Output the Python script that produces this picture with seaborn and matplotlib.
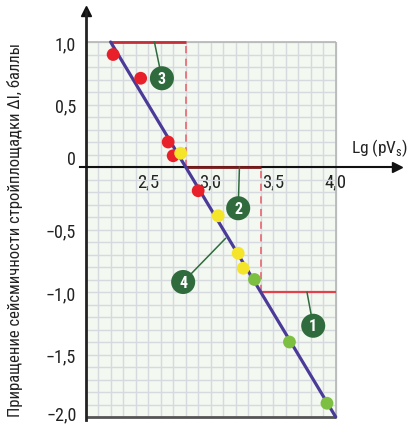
import numpy as np
import pandas as pd
import matplotlib
matplotlib.use("Agg")
import matplotlib.pyplot as plt
from matplotlib import font_manager
from matplotlib.patches import Rectangle
import seaborn as sns

# ---------------- data ----------------
red_x = [2.22, 2.44, 2.66, 2.70, 2.90]
red_y = [0.90, 0.71, 0.20, 0.09, -0.19]
yellow_x = [2.76, 3.06, 3.22, 3.26]
yellow_y = [0.11, -0.39, -0.69, -0.81]
green_x = [3.35, 3.63, 3.93]
green_y = [-0.90, -1.40, -1.89]

fit_x = [2.2, 4.0]
fit_y = [1.0, -2.0]

zone_x = [2.2, 2.8, 3.4, 4.0]
zone_y = [1.0, 0.0, -1.0]

x_ticks = [2.5, 3.0, 3.5, 4.0]
x_ticklabels = ["2,5", "3,0", "3,5", "4,0"]
y_ticks = [-2.0, -1.5, -1.0, -0.5, 0.0, 0.5, 1.0]
y_ticklabels = ["", "\u22121,5", "\u22121,0", "\u22120,5", "", "0,5", "1,0"]
y_extra_labels = ["\u22122,0", "0"]
y_extra_pos = [-2.0, 0.0]
y_extra_shift = [3, 8]

badge_text = ["1", "2", "3", "4"]
badge_x = [3.82, 3.22, 2.61, 2.78]
badge_y = [-1.27, -0.33, 0.71, -0.92]
leader_x = [3.77, 3.23, 2.55, 3.12]
leader_y = [-1.00, 0.00, 1.00, -0.57]

y_label = "Приращение сейсмичности стройплощадки ΔI, баллы"
x_label = "Lg (pV$_\\mathregular{s}$)"

# ---------------- style ----------------
sns.set_theme(style="white")
fam = "DejaVu Sans"
for cand in ["Liberation Sans Narrow", "Roboto Condensed", "Open Sans", "DejaVu Sans"]:
    try:
        font_manager.findfont(cand, fallback_to_default=False)
        fam = cand
        break
    except Exception:
        pass
plt.rcParams["font.family"] = [fam, "DejaVu Sans"]

W, H = 408, 427
fig = plt.figure(figsize=(W / 100, H / 100), dpi=100)
px_left, px_right, px_top, px_bot = 80, 397, 12, 420.5
ax = fig.add_axes([px_left / W, (H - px_bot) / H, (px_right - px_left) / W, (px_bot - px_top) / H])
ax.set_xlim(1.955, 4.49)
ax.set_ylim(-2.02, 1.248)
ax.set_facecolor("none")
fig.patch.set_facecolor("white")

# grid box
ax.add_patch(Rectangle((2.0, -2.0), 2.0, 3.0, facecolor="#f3f8f1", edgecolor="none", zorder=0))
gx = np.round(np.arange(2.0, 4.0001, 0.1), 2)
gy = np.round(np.arange(-2.0, 1.0001, 0.1), 2)
ax.vlines(gx, -2.0, 1.0, colors="#d6d9dd", lw=1.0, zorder=1)
ax.hlines(gy, 2.0, 4.0, colors="#d6d9dd", lw=1.0, zorder=1)
ax.vlines([4.0], -2.0, 1.0, colors="#b5b5b5", lw=1.2, zorder=1)
ax.hlines([1.0], 2.0, 4.0, colors="#b5b5b5", lw=1.2, zorder=1)
ax.hlines([-2.0], 2.0, 4.0, colors="#555555", lw=2.0, zorder=2)

# spines as axes
for s in ["top", "right"]:
    ax.spines[s].set_visible(False)
ax.spines["left"].set_position(("data", 2.0))
ax.spines["left"].set_color("#222222")
ax.spines["left"].set_linewidth(2.0)
ax.spines["bottom"].set_position(("data", 0.0))
ax.spines["bottom"].set_color("#111111")
ax.spines["bottom"].set_linewidth(1.5)
ax.spines["bottom"].set_zorder(3)

ax.plot(1, 0, ">", color="#111111", ms=7, transform=ax.get_yaxis_transform(), clip_on=False)
ax.plot(2.0, 1, "^", color="#111111", ms=7, transform=ax.get_xaxis_transform(), clip_on=False)

ax.set_xticks(x_ticks)
ax.set_xticklabels(x_ticklabels)
ax.set_yticks(y_ticks)
ax.set_yticklabels(y_ticklabels)
ax.tick_params(axis="x", direction="inout", length=8, width=1.2, color="#111111",
               labelsize=13.5, pad=0, labelcolor="#222222")
ax.tick_params(axis="y", direction="out", length=5, width=1.2, color="#222222",
               labelsize=13, pad=2, labelcolor="#222222")
for txt, yp, sh in zip(y_extra_labels, y_extra_pos, y_extra_shift):
    ax.annotate(txt, xy=(2.0, yp), xytext=(-9 if txt == "\u22122,0" else -10, sh),
                textcoords="offset pixels", ha="right", va="center",
                fontsize=13, color="#222222", annotation_clip=False)

# zone step lines
ax.hlines(zone_y[0], zone_x[0], zone_x[1], colors="#c4303a", lw=2.0, zorder=4)
ax.vlines(zone_x[1], zone_y[1], zone_y[0], colors="#e8707a", lw=1.3, linestyles=(0, (4, 3)), zorder=4)
ax.hlines(zone_y[1], zone_x[1], zone_x[2], colors="#7a1a1a", lw=2.0, zorder=4)
ax.vlines(zone_x[2], zone_y[2], zone_y[1], colors="#e8707a", lw=1.3, linestyles=(0, (4, 3)), zorder=4)
ax.hlines(zone_y[2], zone_x[2], zone_x[3], colors="#e2404c", lw=1.6, zorder=4)

# regression line
sns.lineplot(x=fit_x, y=fit_y, ax=ax, color="#4b3b98", lw=2.3, zorder=5)

# points
df = pd.DataFrame({
    "x": red_x + yellow_x + green_x,
    "y": red_y + yellow_y + green_y,
    "g": ["red"] * len(red_x) + ["yellow"] * len(yellow_x) + ["green"] * len(green_x),
})
sns.scatterplot(data=df, x="x", y="y", hue="g",
                palette={"red": "#e8202a", "yellow": "#f4e52a", "green": "#7dbf40"},
                s=85, edgecolor="none", legend=False, ax=ax, zorder=6)

# badges
for t, bx, by, lx, ly in zip(badge_text, badge_x, badge_y, leader_x, leader_y):
    ax.plot([lx, bx], [ly, by], color="#2f6b3d", lw=1.1, zorder=7)
    ax.scatter([bx], [by], s=300, color="#2f6b3d", edgecolor="none", zorder=8)
    ax.text(bx, by, t, color="white", fontsize=11.5, fontweight="bold",
            ha="center", va="center", zorder=9)

ax.set_xlabel("")
ax.set_ylabel("")
ax.text(4.12, 0.07, x_label, fontsize=12.5, ha="left", va="bottom", color="#222222")
fig.text(15 / W, 1 - 230 / H, y_label, rotation=90, ha="center", va="center",
         fontsize=12, color="#222222")

fig.savefig("out.png", dpi=100)
